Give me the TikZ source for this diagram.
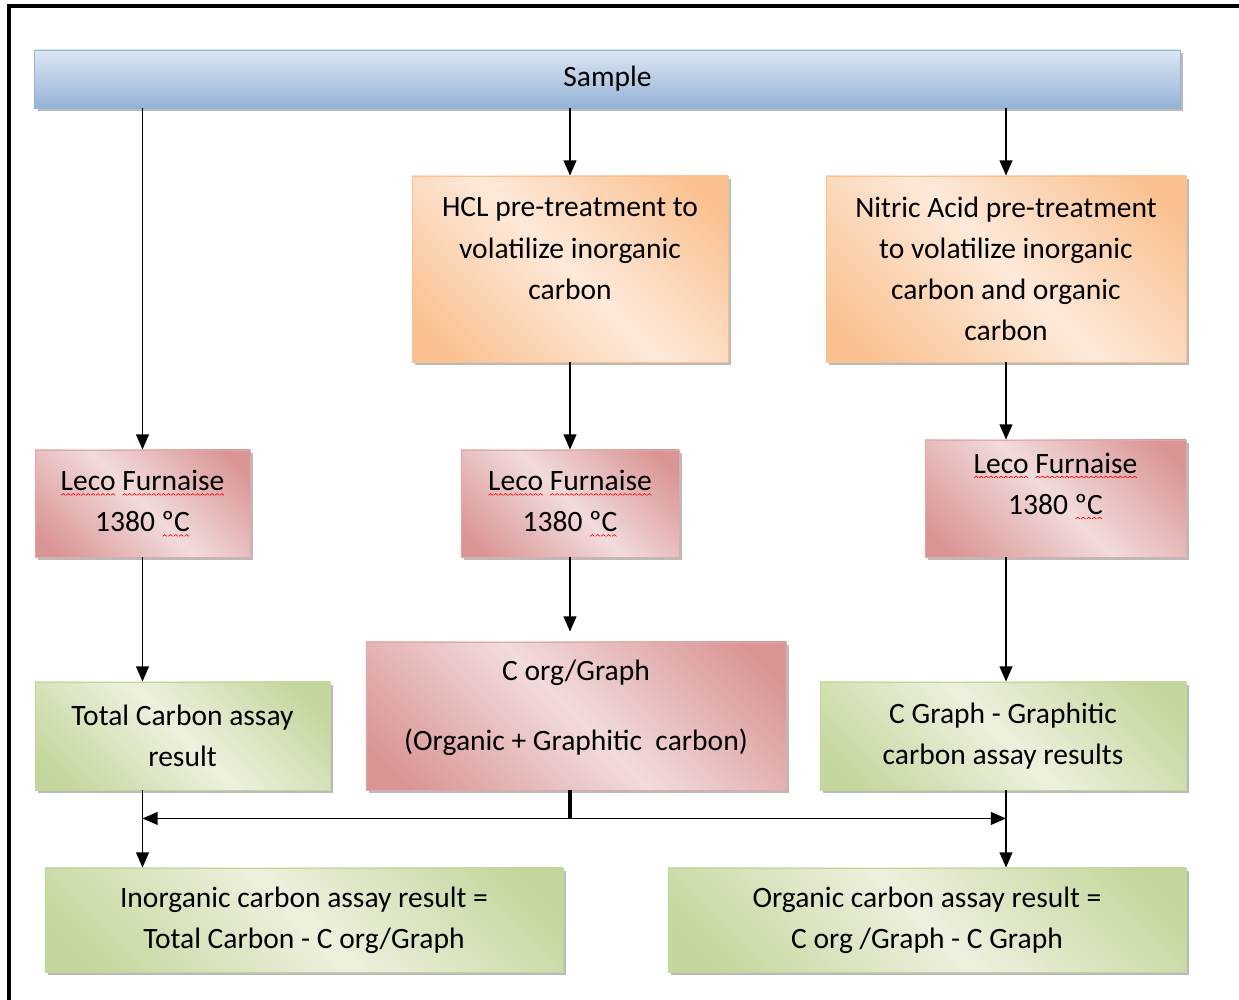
\documentclass[tikz,border=0pt]{standalone}
\usepackage{fontspec}
\setmainfont{Carlito}
\usetikzlibrary{arrows.meta,shadows}

\definecolor{bluelight}{HTML}{DCE6F2}
\definecolor{bluedark}{HTML}{95B3D7}
\definecolor{orangelight}{HTML}{FDE9D9}
\definecolor{orangedark}{HTML}{FAC08F}
\definecolor{redlight}{HTML}{F2DBDB}
\definecolor{reddark}{HTML}{D99594}
\definecolor{greenlight}{HTML}{EBF1DE}
\definecolor{greendark}{HTML}{C3D69B}

\pgfdeclarehorizontalshading{orangeband}{100bp}{color(0bp)=(orangedark); color(20bp)=(orangedark); color(50bp)=(orangelight); color(80bp)=(orangedark); color(100bp)=(orangedark)}
\pgfdeclarehorizontalshading{redband}{100bp}{color(0bp)=(reddark); color(20bp)=(reddark); color(50bp)=(redlight); color(80bp)=(reddark); color(100bp)=(reddark)}
\pgfdeclarehorizontalshading{greenband}{100bp}{color(0bp)=(greendark); color(20bp)=(greendark); color(50bp)=(greenlight); color(80bp)=(greendark); color(100bp)=(greendark)}

% red spelling squiggle
\newsavebox\wavebox
\newcommand\redwave[1]{\setbox0=\hbox{#1}\rlap{\lower3.5pt\hbox to\wd0{\xleaders\copy\wavebox\hfil}}\box0\relax}

\tikzset{
    boxbase/.style={draw, line width=0.6pt, align=center, inner sep=0pt,
        drop shadow={shadow xshift=0.07cm, shadow yshift=-0.07cm, fill=black!45, opacity=0.6}},
    samplebox/.style={boxbase, draw=bluedark, top color=bluelight, bottom color=bluedark,
        minimum width=28.625cm, minimum height=1.45cm},
    treatbox/.style={boxbase, draw=orangedark, shading=orangeband, shading angle=45, minimum height=4.65cm},
    furnbox/.style={boxbase, draw=reddark!80, shading=redband, shading angle=45},
    resultbox/.style={boxbase, draw=greendark, shading=greenband, shading angle=45},
    arr/.style={-{Triangle[width=0.32cm,length=0.38cm]}, line width=1.1pt},
}

\begin{document}
\sbox\wavebox{\begin{pgfpicture}\pgfsetcolor{red}\pgfsetlinewidth{0.45pt}\pgfpathmoveto{\pgfpoint{0pt}{0pt}}\pgfpathlineto{\pgfpoint{1.5pt}{1.2pt}}\pgfpathlineto{\pgfpoint{3pt}{0pt}}\pgfusepath{stroke}\end{pgfpicture}}
\begin{tikzpicture}[x=0.025cm, y=-0.025cm, font=\fontsize{21}{29.2}\selectfont]
    \useasboundingbox (0,0) rectangle (1239,1000);
    \draw[line width=3pt] (9,1000) -- (9,6) -- (1239,6);

    \node[samplebox] (sample) at (607.5,79) {Sample};

    \node[treatbox, minimum width=7.9cm] (hcl) at (570,269) {HCL pre-treatment to\\volatilize inorganic\\carbon\\\mbox{}};
    \node[treatbox, minimum width=9cm] (nitric) at (1006,269) {Nitric Acid pre-treatment\\to volatilize inorganic\\carbon and organic\\carbon};

    \node[furnbox, minimum width=5.375cm, minimum height=2.675cm] (leco1) at (142.5,503.5) {\redwave{Leco} \redwave{Furnaise}\\1380 \redwave{ºC}};
    \node[furnbox, minimum width=5.45cm, minimum height=2.675cm] (leco2) at (570,503.5) {\redwave{Leco} \redwave{Furnaise}\\1380 \redwave{ºC}};
    \node[furnbox, minimum width=6.525cm, minimum height=2.925cm] (leco3) at (1055.5,498.5) {\redwave{Leco} \redwave{Furnaise}\\1380 \redwave{ºC}\\[-8pt]\mbox{}};

    \node[resultbox, minimum width=7.375cm, minimum height=2.7cm] (total) at (182.5,736) {Total Carbon assay\\result};
    \node[furnbox, minimum width=10.5cm, minimum height=3.7cm] (corg) at (576,716) {C org/Graph\\[20pt](Organic + Graphitic~ carbon)\\[-14pt]\mbox{}};
    \node[resultbox, minimum width=9.15cm, minimum height=2.7cm] (cgraph) at (1003,736) {C Graph - Graphitic\\carbon assay results};

    \node[resultbox, minimum width=12.95cm, minimum height=2.6cm] (inorg) at (304,920) {Inorganic carbon assay result =\\Total Carbon - C org/Graph};
    \node[resultbox, minimum width=12.95cm, minimum height=2.6cm] (org) at (927,920) {Organic carbon assay result =\\C org /Graph - C Graph};

    \draw[arr] (sample.south -| leco1.north) -- (leco1.north);
    \draw[arr] (sample.south -| hcl.north) -- (hcl.north);
    \draw[arr] (sample.south -| nitric.north) -- (nitric.north);
    \draw[arr] (hcl.south) -- (leco2.north);
    \draw[arr] (nitric.south) -- (nitric.south |- leco3.north);
    \draw[arr] (leco1.south) -- (leco1.south |- total.north);
    \draw[arr] (leco2.south) -- ([yshift=0.25cm]leco2.south |- corg.north);
    \draw[arr] (leco3.south -| nitric.south) -- (nitric.south |- cgraph.north);
    \draw[arr] (total.south -| leco1.south) -- (leco1.south |- inorg.north);
    \draw[arr] (cgraph.south -| nitric.south) -- (nitric.south |- org.north);
    \coordinate (split) at ([yshift=-0.7cm]corg.south -| hcl.south);
    \draw[line width=2.2pt] (corg.south -| hcl.south) -- (split);
    \draw[arr] (split) -- (split -| leco1.south);
    \draw[arr] (split) -- (split -| nitric.south);
\end{tikzpicture}
\end{document}
